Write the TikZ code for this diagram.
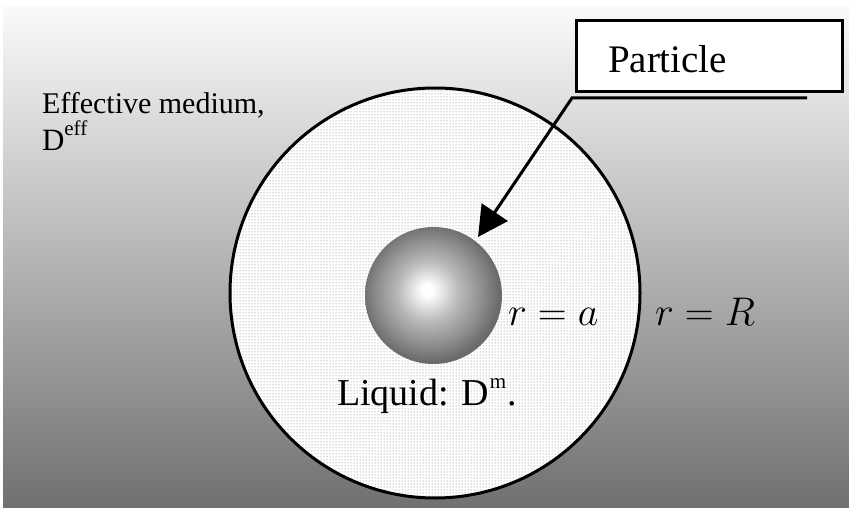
\documentclass[tikz,border=0pt]{standalone}
\usepackage{fix-cm}
\usepackage{fontspec}
\setmainfont{Liberation Serif}
\usetikzlibrary{arrows.meta,patterns}

\pgfdeclareradialshading{sphshade}{\pgfpoint{-2.4bp}{2bp}}{color(0bp)=(white); color(2bp)=(white); color(11bp)=(black!27); color(19bp)=(black!44); color(25bp)=(black!58); color(50bp)=(black!58)}

\tikzset{
  thickline/.style={line width=3pt, line cap=butt},
  plaintext/.style={inner sep=0pt, outer sep=0pt, anchor=base west, text=black},
}

\begin{document}
\begin{tikzpicture}[x=1pt,y=-1pt]
\useasboundingbox (0,0) rectangle (849,508);
\fill[white] (0,0) rectangle (849,508);
\shade[top color=black!2, bottom color=black!56] (3,7) rectangle (849,508);

% outer shell (liquid)
\fill[white] (435,293) circle[radius=205];
\node (shell) [circle, draw, line width=3pt, minimum size=410pt, inner sep=0pt,
  pattern=dots, pattern color=black!55] at (435,293) {};

% particle
\node (sph) [circle, minimum size=137pt, inner sep=0pt, shading=sphshade] at (433.5,295.5) {};

% callout box
\node (box) [draw, line width=3pt, fill=white, minimum width=266pt, minimum height=71pt, inner sep=0pt] at (709,56.5) {};
\node (ptext) [plaintext] at (608,73) {\fontsize{39}{44}\selectfont Particle};

\coordinate (cl) at (572,98);
\coordinate (cr) at (807,98);
\coordinate (tip) at (478,237);
\draw[thickline, line join=miter, -{Triangle[length=30pt,width=31pt]}] (cr) -- (cl) -- (tip);

% labels
\node (eff1) [plaintext] at (42,114) {\fontsize{30}{34}\selectfont Effective medium,};
\node (eff2) [plaintext] at (42,150) {\fontsize{31}{34}\selectfont D\raisebox{14pt}{\fontsize{21}{21}\selectfont eff}};

\node (liq) [plaintext] at (337,405) {\fontsize{38}{44}\selectfont Liquid: D\hspace{1pt}\raisebox{17pt}{\fontsize{21}{21}\selectfont m}\hspace{1pt}.};

\node (ra) [plaintext] at (508,325) {\fontsize{40}{48}\selectfont $r = a$};
\node (rR) [plaintext] at (655,325) {\fontsize{40}{48}\selectfont $r = R$};
\end{tikzpicture}
\end{document}
